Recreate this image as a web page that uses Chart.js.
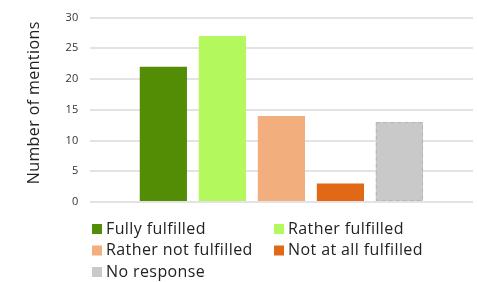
<!DOCTYPE html>
<html><head><meta charset="utf-8">
<script src="https://cdn.jsdelivr.net/npm/chart.js@4"></script>
<style>html,body{margin:0;padding:0;background:#fff}#wrap{width:477px;height:282px}</style>
</head><body><div id="wrap"><canvas id="c" width="477" height="282"></canvas></div>
<script>
const categories = [""];
const seriesNames = ["Fully fulfilled", "Rather fulfilled", "Rather not fulfilled", "Not at all fulfilled", "No response"];
const seriesValues = [22, 27, 14, 3, 13];
const seriesColors = ["#538d05", "#b3f85d", "#f2ae7c", "#e06817", "#c9c9c9"];
const yTicks = [0, 5, 10, 15, 20, 25, 30];
const yTitle = "Number of mentions";
const FONT = "'Open Sans'";

const datasets = seriesNames.map((n, i) => ({
  label: n,
  data: [seriesValues[i]],
  backgroundColor: seriesColors[i],
  borderWidth: 0,
  categoryPercentage: 0.77,
  barPercentage: 0.8,
  dashed: i === 4
}));

const spacingPlugin = {
  id: 'spacing',
  beforeInit(chart) { chart.ctx.letterSpacing = '0.4px'; },
  beforeDraw(chart) { chart.ctx.letterSpacing = '0.4px'; }
};

const dashPlugin = {
  id: 'dash',
  afterDatasetsDraw(chart) {
    const ctx = chart.ctx;
    chart.data.datasets.forEach((ds, i) => {
      if (!ds.dashed) return;
      chart.getDatasetMeta(i).data.forEach(el => {
        const p = el.getProps(['x', 'y', 'width', 'base'], true);
        ctx.save();
        ctx.strokeStyle = '#b5b5b5';
        ctx.lineWidth = 1;
        ctx.setLineDash([4, 3]);
        ctx.strokeRect(p.x - p.width / 2 + 0.5, p.y + 0.5, p.width - 1, p.base - p.y - 1);
        ctx.restore();
      });
    });
  }
};

const titlePlugin = {
  id: 'yTitle',
  afterDraw(chart) {
    const ctx = chart.ctx;
    const a = chart.chartArea;
    ctx.save();
    ctx.font = "16px " + FONT;
    ctx.fillStyle = '#222';
    ctx.textAlign = 'center';
    ctx.textBaseline = 'middle';
    ctx.translate(34, (a.top + a.bottom) / 2 - 7);
    ctx.rotate(-Math.PI / 2);
    ctx.fillText(yTitle, 0, 0);
    ctx.restore();
  }
};

const legendPlugin = {
  id: 'gridLegend',
  afterDraw(chart) {
    const ctx = chart.ctx;
    ctx.save();
    ctx.font = "16px " + FONT;
    ctx.textBaseline = 'middle';
    const colX = [92, 274], rowY = [229, 250.5, 272];
    chart.data.datasets.forEach((ds, i) => {
      const x = colX[i % 2], y = rowY[Math.floor(i / 2)];
      ctx.fillStyle = ds.backgroundColor;
      ctx.fillRect(x, y - 5, 10, 10);
      ctx.fillStyle = '#222';
      ctx.fillText(ds.label, x + 14, y);
    });
    ctx.restore();
  }
};

new Chart(document.getElementById('c'), {
  type: 'bar',
  data: { labels: categories, datasets },
  plugins: [spacingPlugin, dashPlugin, titlePlugin, legendPlugin],
  options: {
    responsive: false,
    animation: false,
    layout: { padding: { left: 27, right: 4, top: 12, bottom: 80 } },
    plugins: { legend: { display: false }, tooltip: { enabled: false } },
    scales: {
      x: { display: false },
      y: {
        min: 0, max: 30,
        afterBuildTicks: s => { s.ticks = yTicks.map(v => ({ value: v })); },
        border: { display: false },
        grid: { color: '#e3e3e3', lineWidth: 2, drawTicks: false },
        ticks: { padding: 11, color: '#333', font: { family: FONT, size: 11 } },
        title: { display: true, text: yTitle, color: 'rgba(0,0,0,0)', padding: { top: 0, bottom: 9 }, font: { family: FONT, size: 16 } }
      }
    }
  }
});
</script></body></html>
